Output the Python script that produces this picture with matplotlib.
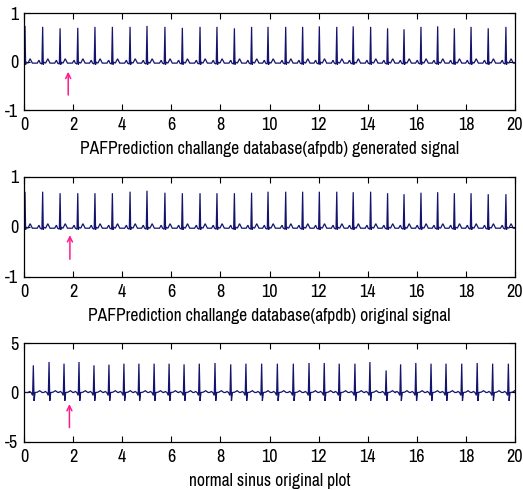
import numpy as np
import matplotlib
matplotlib.use("Agg")
import matplotlib.pyplot as plt
from matplotlib import font_manager as fm

installed = {f.name for f in fm.fontManager.ttflist}
if 'Archivo Narrow' in installed:
    font_list, tick_size, label_size = ['Archivo Narrow', 'DejaVu Sans'], 13, 12.6
elif 'Roboto Condensed' in installed:
    font_list, tick_size, label_size = ['Roboto Condensed', 'DejaVu Sans'], 12.5, 12.2
else:
    font_list, tick_size, label_size = ['Liberation Sans', 'DejaVu Sans'], 11, 10.5
plt.rcParams['font.family'] = font_list
plt.rcParams['axes.unicode_minus'] = False

# R-peak times (s) and amplitudes for each record
gen_times = [0.04, 0.76, 1.47, 2.19, 2.89, 3.60, 4.32, 5.01, 5.74, 6.45, 7.17, 7.86,
             8.57, 9.27, 9.94, 10.66, 11.35, 12.03, 12.74, 13.41, 14.12, 14.81, 15.48,
             16.17, 16.85, 17.53, 18.21, 18.91, 19.63]
gen_heights = [0.74, 0.72, 0.69, 0.70, 0.72, 0.72, 0.72, 0.74, 0.72, 0.70, 0.72, 0.72,
               0.69, 0.72, 0.72, 0.72, 0.72, 0.73, 0.72, 0.73, 0.72, 0.69, 0.67, 0.72,
               0.73, 0.69, 0.72, 0.69, 0.72]

orig_times = gen_times
orig_heights = [0.70, 0.70, 0.67, 0.67, 0.67, 0.67, 0.70, 0.72, 0.68, 0.67, 0.67, 0.67,
                0.67, 0.68, 0.70, 0.70, 0.70, 0.70, 0.70, 0.69, 0.70, 0.67, 0.65, 0.68,
                0.69, 0.67, 0.67, 0.65, 0.65]

nsr_times = [0.38, 1.02, 1.63, 2.24, 2.85, 3.46, 4.07, 4.68, 5.30, 5.91, 6.52, 7.14,
             7.78, 8.42, 9.04, 9.68, 10.32, 10.97, 11.61, 12.23, 12.84, 13.48, 14.09,
             14.75, 15.34, 15.96, 16.58, 17.19, 17.83, 18.46, 19.09, 19.73]
nsr_heights = [2.76, 3.10, 2.93, 3.10, 2.76, 2.83, 2.93, 2.93, 2.93, 2.93, 2.86, 2.93,
               3.00, 2.86, 2.93, 2.93, 2.93, 2.93, 3.00, 3.00, 2.93, 2.93, 3.10, 2.24,
               2.86, 3.00, 2.93, 2.93, 2.93, 3.00, 2.93, 2.93]

# single-beat waveform knots: offset from R peak (s), level (None marks the R peak)
afpdb_offsets = [-0.22, -0.15, -0.10, -0.03, 0.0, 0.025, 0.05, 0.12, 0.21, 0.30, 0.36]
afpdb_levels = [-0.03, 0.03, -0.03, -0.05, None, -0.06, -0.01, -0.03, 0.06, -0.03, -0.03]

nsr_offsets = [-0.22, -0.15, -0.09, -0.03, 0.0, 0.03, 0.07, 0.16, 0.26, 0.36, 0.40]
nsr_levels = [0.0, 0.1, 0.0, -0.3, None, -0.85, 0.0, 0.03, 0.18, 0.0, 0.0]

xlabels = ["PAFPrediction challange database(afpdb) generated signal",
           "PAFPrediction challange database(afpdb) original signal",
           "normal sinus original plot"]
yticks = [[-1, 0, 1], [-1, 0, 1], [-5, 0, 5]]
ylims = [(-1, 1), (-1, 1), (-5, 5)]
xticks = list(range(0, 21, 2))

# arrow marking the same beat region in each record: x, y head, y tail
arrow_x = [1.80, 1.87, 1.85]
arrow_head = [-0.21, -0.17, -1.18]
arrow_tail = [-0.69, -0.65, -3.57]


def build_trace(times, heights, offsets, levels):
    xs, ys = [0.0], [levels[0]]
    for t, h in zip(times, heights):
        for o, v in zip(offsets, levels):
            xs.append(t + o)
            ys.append(h if v is None else v)
    xs.append(20.0)
    ys.append(levels[-1])
    return np.array(xs), np.array(ys)


traces = [build_trace(gen_times, gen_heights, afpdb_offsets, afpdb_levels),
          build_trace(orig_times, orig_heights, afpdb_offsets, afpdb_levels),
          build_trace(nsr_times, nsr_heights, nsr_offsets, nsr_levels)]

fig = plt.figure(figsize=(5.23, 4.90), dpi=100)
positions = [[0.0459, 0.7755, 0.9388, 0.1973],
             [0.0459, 0.4353, 0.9388, 0.2041],
             [0.0459, 0.0986, 0.9388, 0.2008]]

for i in range(3):
    ax = fig.add_axes(positions[i])
    x, y = traces[i]
    ax.plot(x, y, color='#14146e', lw=0.9, solid_joinstyle='miter')
    ax.set_xlim(0, 20)
    ax.set_ylim(*ylims[i])
    ax.set_xticks(xticks)
    ax.set_yticks(yticks[i])
    ax.tick_params(direction='in', top=True, right=True, length=4, width=0.8,
                   labelsize=tick_size)
    ax.tick_params(axis='x', pad=5)
    ax.tick_params(axis='y', pad=4)
    for s in ax.spines.values():
        s.set_linewidth(0.9)
    ax.set_xlabel(xlabels[i], fontsize=label_size, labelpad=6)
    ax.annotate('', xy=(arrow_x[i], arrow_head[i]), xytext=(arrow_x[i], arrow_tail[i]),
                arrowprops=dict(arrowstyle='->', color='#ff1a8c', lw=1.1,
                                shrinkA=0, shrinkB=0, mutation_scale=9))

fig.savefig('out.png', dpi=100)
